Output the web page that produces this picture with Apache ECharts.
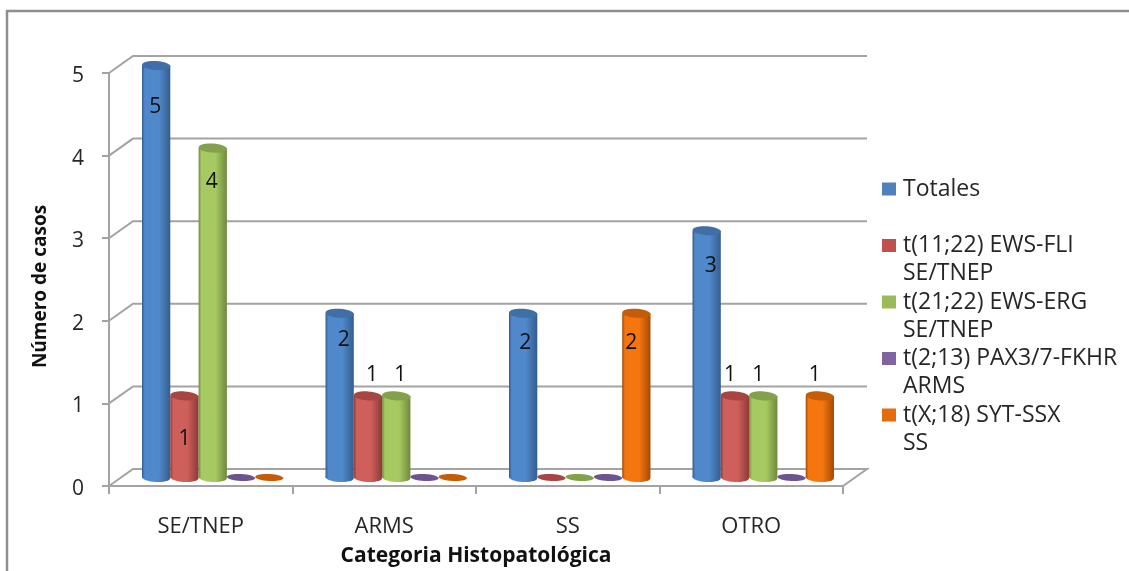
<!DOCTYPE html>
<html>
<head>
<meta charset="utf-8">
<style>
  html, body { margin: 0; padding: 0; background: #fff; }
  #chart { width: 1129px; height: 571px; }
</style>
<script src="https://cdn.jsdelivr.net/npm/echarts@6/dist/echarts.min.js"></script>
</head>
<body>
<div id="chart"></div>
<script>
// 数据
const categories = ["SE/TNEP", "ARMS", "SS", "OTRO"];
const yTicks = [0, 1, 2, 3, 4, 5];
const seriesNames = [
  "Totales\n ",
  "t(11;22) EWS-FLI\nSE/TNEP",
  "t(21;22) EWS-ERG\nSE/TNEP",
  "t(2;13) PAX3/7-FKHR\nARMS",
  "t(X;18) SYT-SSX\nSS",
];
const totales = [5, 2, 2, 3];
const ewsFli = [1, 1, 0, 1];
const ewsErg = [4, 1, 0, 1];
const paxFkhr = [0, 0, 0, 0];
const sytSsx = [0, 0, 2, 1];
const seriesValues = [totales, ewsFli, ewsErg, paxFkhr, sytSsx];

// 样式：[图例色, 边缘, 中心, 顶面]
const CYL_COLORS = [
  ["#4f81bd", "#345d8c", "#5088cc", "#3f6fa6"],
  ["#c0504d", "#8c3937", "#cf5f5b", "#a84543"],
  ["#9bbb59", "#6f893e", "#a7c961", "#83a04a"],
  ["#8064a2", "#5f4a7a", "#8a6cae", "#6c5490"],
  ["#e46c0a", "#a34b06", "#f5760f", "#c45c08"],
];
// 标签相对柱顶/柱心的偏移（原图为手动摆放），按 系列/类别
const LABEL_DY = [
  [42, 27, 30, 35],
  [43, -21, 0, -21],
  [34, -21, 0, -21],
  [0, 0, 0, 0],
  [0, 0, 30, -21],
];
const LABEL_DX = [
  [-1, 4, 2, 4],
  [0, 4, 0, -5],
  [-1, 4, 0, -5],
  [0, 0, 0, 0],
  [0, 0, -5, -5],
];
const FONT = '"Open Sans", "Noto Sans", sans-serif';
const TEXT = "#262626";
const GRID_COLOR = "#a3a3a3";

// 三维进深
const DEPTH_X = 24;
const DEPTH_Y = 17;
const BAR_W = 28.3;
const RX = BAR_W / 2;
const RY = 4.5;
const TILT = -0.06;

const renderWalls = (params, api) => {
  const v = api.value(0);
  const p0 = api.coord([0, v]);
  const left = params.coordSys.x;
  const right = left + params.coordSys.width;
  const y = p0[1];
  const points = [
    [left, y],
    [left + DEPTH_X, y - DEPTH_Y],
    [right + DEPTH_X, y - DEPTH_Y],
  ];
  if (v === 0) {
    points.push([right, y]);
  }
  return {
    type: "polyline",
    shape: { points },
    style: { stroke: GRID_COLOR, lineWidth: 2, fill: null },
  };
};

const renderCylinder = (seriesIndex) => (params, api) => {
  const cat = api.value(0);
  const val = api.value(1);
  const colors = CYL_COLORS[seriesIndex];
  const base = api.coord([cat, 0]);
  const top = api.coord([cat, val]);
  const cx = base[0] + DEPTH_X / 2 + (seriesIndex - 2) * BAR_W;
  const yBase = base[1] - DEPTH_Y / 2;
  const yTop = top[1] - DEPTH_Y / 2 + 1;
  const bodyFill = {
    type: "linear", x: 0, y: 0, x2: 1, y2: 0,
    colorStops: [
      { offset: 0, color: colors[1] },
      { offset: 0.1, color: colors[2] },
      { offset: 0.6, color: colors[2] },
      { offset: 1, color: colors[1] },
    ],
  };
  const children = [];
  if (val > 0) {
    children.push(
      { type: "ellipse", x: cx, y: yBase, rotation: TILT, shape: { cx: 0, cy: 0, rx: RX, ry: RY }, style: { fill: bodyFill } },
      { type: "rect", shape: { x: cx - RX, y: yTop, width: BAR_W, height: yBase - yTop }, style: { fill: bodyFill } },
      { type: "ellipse", x: cx, y: yTop, rotation: TILT, shape: { cx: 0, cy: 0, rx: RX, ry: RY }, style: { fill: colors[3] } },
      {
        type: "text",
        style: {
          x: cx + LABEL_DX[seriesIndex][cat],
          y: yTop + LABEL_DY[seriesIndex][cat],
          text: String(val),
          fill: "#111",
          font: "21px " + FONT,
          align: "center",
          verticalAlign: "middle",
        },
      }
    );
  } else {
    children.push({
      type: "ellipse", x: cx, y: yBase, rotation: TILT,
      shape: { cx: 0, cy: 0, rx: RX, ry: 3.5 },
      style: { fill: colors[3] },
    });
  }
  return { type: "group", children };
};

const chart = echarts.init(document.getElementById("chart"));
chart.setOption({
  animation: false,
  backgroundColor: "#fff",
  grid: { left: 109, right: 286, top: 73, bottom: 85, outerBoundsMode: "none" },
  graphic: [
    {
      type: "polyline",
      silent: true,
      shape: { points: [[7, 571], [7, 11], [1129, 11]] },
      style: { stroke: "#8f8f8f", lineWidth: 2.5, fill: null },
    },
  ],
  legend: {
    orient: "vertical",
    left: 882,
    top: 175,
    itemWidth: 16,
    itemHeight: 56,
    itemGap: 0.5,
    // 方块只占上半部分，让它对齐两行文字的第一行
    icon: "path://M0 0L0 0M0 7.5H14V20.5H0ZM16 56L16 56",
    selectedMode: false,
    padding: 0,
    itemStyle: { borderWidth: 0 },
    textStyle: {
      fontFamily: FONT,
      fontSize: 23,
      color: TEXT,
      lineHeight: 28,
    },
    data: seriesNames,
  },
  xAxis: {
    type: "category",
    data: categories,
    name: "Categoria Histopatológica",
    nameLocation: "middle",
    nameGap: 60,
    nameTextStyle: { fontFamily: FONT, fontSize: 21, fontWeight: "bold", color: "#111" },
    axisLine: { show: true, lineStyle: { color: GRID_COLOR, width: 2 } },
    axisTick: { show: true, length: 8, lineStyle: { color: GRID_COLOR, width: 2 } },
    axisLabel: { fontFamily: FONT, fontSize: 22, color: TEXT, margin: 30 },
    splitLine: { show: false },
  },
  yAxis: {
    type: "value",
    min: 0,
    max: 5,
    interval: 1,
    name: "Número de casos",
    nameLocation: "middle",
    nameGap: 59,
    nameTextStyle: { fontFamily: FONT, fontSize: 19, fontWeight: "bold", color: "#111", padding: [0, 14, 0, 0] },
    axisLine: { show: true, lineStyle: { color: GRID_COLOR, width: 2 } },
    axisTick: { show: true, length: 7, lineStyle: { color: GRID_COLOR, width: 2 } },
    axisLabel: {
      margin: 25,
      formatter: "{v|{value}}",
      rich: { v: { fontFamily: FONT, fontSize: 21, color: TEXT, padding: [6, 0, 0, 0] } },
    },
    splitLine: { show: false },
  },
  series: [
    {
      type: "custom",
      name: "walls",
      silent: true,
      z: 1,
      clip: false,
      data: yTicks.map((v) => [v]),
      encode: { y: 0 },
      renderItem: renderWalls,
    },
    ...seriesNames.map((name, i) => ({
      type: "custom",
      name,
      z: 2 + i,
      clip: false,
      itemStyle: { color: CYL_COLORS[i][0] },
      data: seriesValues[i].map((v, c) => [c, v]),
      encode: { x: 0, y: 1 },
      renderItem: renderCylinder(i),
    })),
  ],
});
</script>
</body>
</html>
